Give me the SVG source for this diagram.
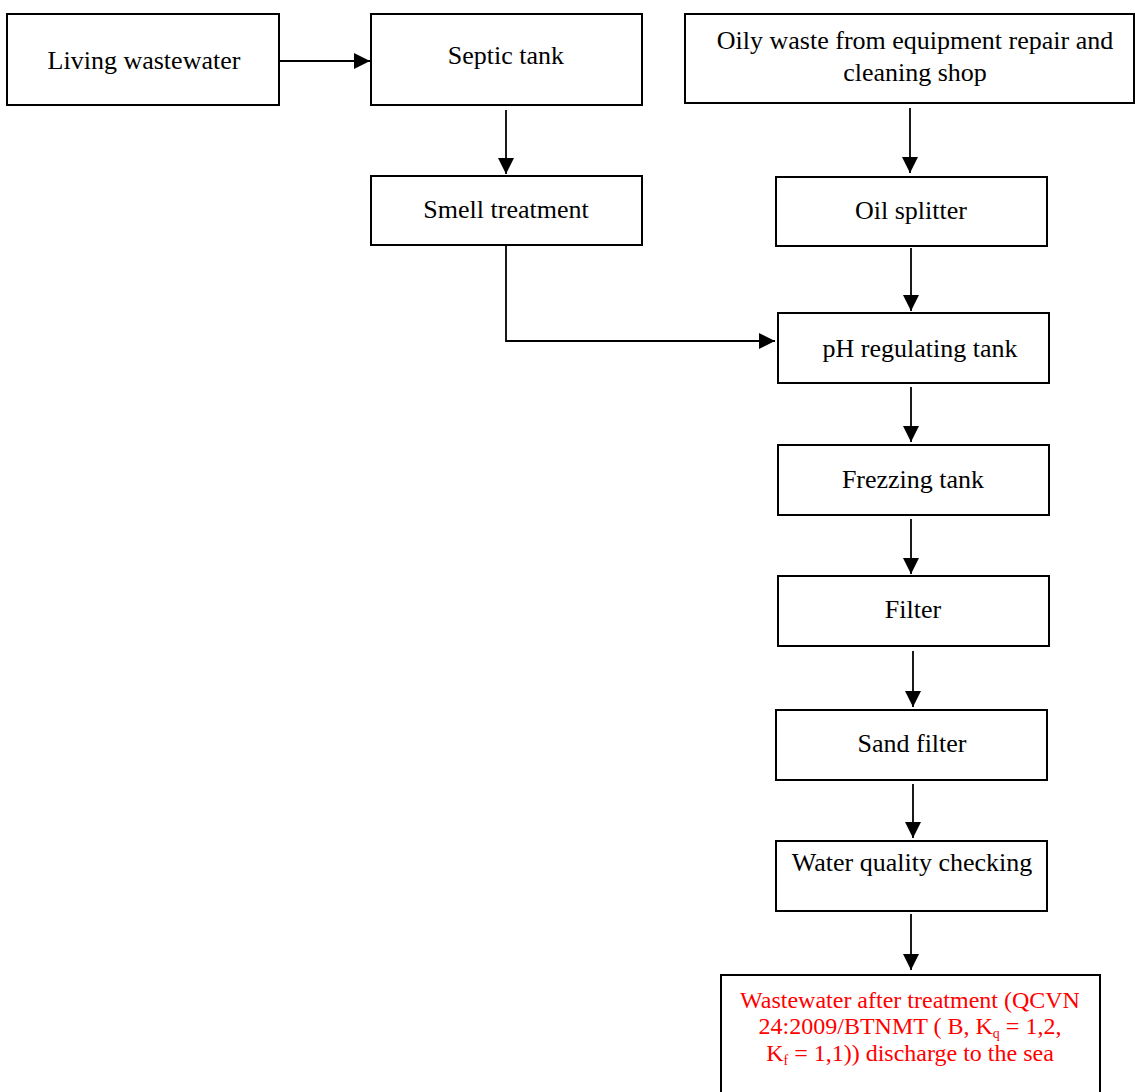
<svg xmlns="http://www.w3.org/2000/svg" width="1135" height="1092" viewBox="0 0 1135 1092">
  <style>
    .box { fill: #ffffff; stroke: #000000; stroke-width: 2; }
    .lbl { font-family: "Liberation Serif", "Times New Roman", serif; font-size: 26px; fill: #000000; text-anchor: middle; }
    .red { font-family: "Liberation Serif", "Times New Roman", serif; font-size: 24px; fill: #ff0000; text-anchor: middle; }
    .sub { font-size: 14px; }
    .flow { fill: none; stroke: #000000; stroke-width: 1.8; }
  </style>
  <defs>
    <marker id="arrow" markerUnits="userSpaceOnUse" markerWidth="16" markerHeight="16" viewBox="0 0 16 16" refX="16" refY="8" orient="auto">
      <path d="M0,0 L16,8 L0,16 Z" fill="#000000"/>
    </marker>
  </defs>

  <rect width="1135" height="1092" fill="#ffffff"/>

  <!-- connectors -->
  <g id="connectors">
    <line class="flow" x1="279" y1="61" x2="370" y2="61" marker-end="url(#arrow)"/>
    <line class="flow" x1="506" y1="110" x2="506" y2="174" marker-end="url(#arrow)"/>
    <polyline class="flow" points="506,245 506,341 775,341" marker-end="url(#arrow)"/>
    <line class="flow" x1="910" y1="108" x2="910" y2="173" marker-end="url(#arrow)"/>
    <line class="flow" x1="911" y1="248" x2="911" y2="311" marker-end="url(#arrow)"/>
    <line class="flow" x1="911" y1="387" x2="911" y2="442" marker-end="url(#arrow)"/>
    <line class="flow" x1="911" y1="519" x2="911" y2="574" marker-end="url(#arrow)"/>
    <line class="flow" x1="913" y1="651" x2="913" y2="707" marker-end="url(#arrow)"/>
    <line class="flow" x1="913" y1="784" x2="913" y2="838" marker-end="url(#arrow)"/>
    <line class="flow" x1="911" y1="914" x2="911" y2="970" marker-end="url(#arrow)"/>
  </g>

  <!-- process boxes -->
  <g id="living-wastewater">
    <rect class="box" x="7" y="14" width="272" height="91"/>
    <text class="lbl" x="144" y="69">Living wastewater</text>
  </g>
  <g id="septic-tank">
    <rect class="box" x="371" y="14" width="271" height="91"/>
    <text class="lbl" x="506" y="64">Septic tank</text>
  </g>
  <g id="smell-treatment">
    <rect class="box" x="371" y="176" width="271" height="69"/>
    <text class="lbl" x="506" y="218">Smell treatment</text>
  </g>
  <g id="oily-waste">
    <rect class="box" x="685" y="14" width="449" height="89"/>
    <text class="lbl" x="915" y="49">Oily waste from equipment repair and</text>
    <text class="lbl" x="915" y="81">cleaning shop</text>
  </g>
  <g id="oil-splitter">
    <rect class="box" x="776" y="177" width="271" height="69"/>
    <text class="lbl" x="911" y="219">Oil splitter</text>
  </g>
  <g id="ph-tank">
    <rect class="box" x="778" y="313" width="271" height="70"/>
    <text class="lbl" x="920" y="357">pH regulating tank</text>
  </g>
  <g id="frezzing-tank">
    <rect class="box" x="778" y="445" width="271" height="70"/>
    <text class="lbl" x="913" y="488">Frezzing tank</text>
  </g>
  <g id="filter">
    <rect class="box" x="778" y="576" width="271" height="70"/>
    <text class="lbl" x="913" y="618">Filter</text>
  </g>
  <g id="sand-filter">
    <rect class="box" x="776" y="710" width="271" height="70"/>
    <text class="lbl" x="912" y="752">Sand filter</text>
  </g>
  <g id="water-quality">
    <rect class="box" x="776" y="841" width="271" height="70"/>
    <text class="lbl" x="912" y="871">Water quality checking</text>
  </g>
  <g id="discharge">
    <rect class="box" x="721" y="975" width="379" height="140"/>
    <text class="red" x="910" y="1008">Wastewater after treatment (QCVN</text>
    <text class="red" x="910" y="1034">24:2009/BTNMT ( B, K<tspan class="sub" dy="4">q</tspan><tspan dy="-4"> = 1,2,</tspan></text>
    <text class="red" x="910" y="1061">K<tspan class="sub" dy="4">f</tspan><tspan dy="-4"> = 1,1)) discharge to the sea</tspan></text>
  </g>
</svg>
